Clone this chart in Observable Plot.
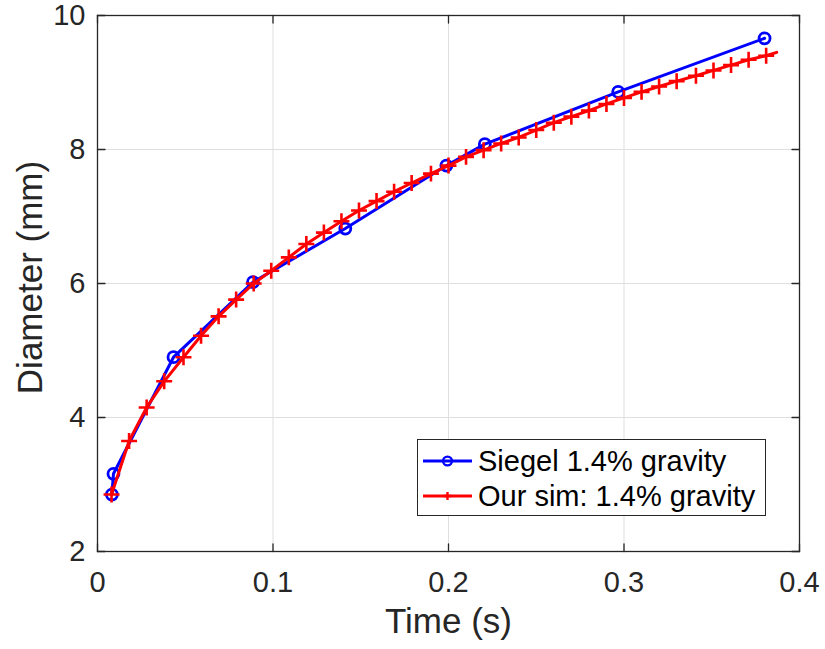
<!DOCTYPE html>
<html>
<head>
<meta charset="utf-8">
<script src="https://cdn.jsdelivr.net/npm/d3@7"></script>
<script src="https://cdn.jsdelivr.net/npm/@observablehq/plot@0.6"></script>
<style>
  html, body { margin: 0; padding: 0; background: #fff; }
  #wrap { position: relative; width: 825px; height: 649px; font-family: "Liberation Sans", Arial, Helvetica, sans-serif; }
  #legend { position: absolute; left: 417px; top: 439px; width: 349px; height: 77px; border: 1.3px solid #262626; background: #fff; box-sizing: border-box; }
  #legend .row { position: absolute; left: 0; height: 36px; display: flex; align-items: center; }
  #legend .row span { font-size: 29px; color: #000; margin-left: 0px; white-space: nowrap; }
</style>
</head>
<body>
<div id="wrap"></div>
<script>
// Siegel experimental data (1.4% gravity)
const siegelTime = [0.0082, 0.0091, 0.0433, 0.0886, 0.1412, 0.1988, 0.2207, 0.2967, 0.3801];
const siegelDiam = [2.85, 3.16, 4.90, 6.02, 6.82, 7.76, 8.08, 8.86, 9.66];

// Our simulation (1.4% gravity); last point is the unmarked end of the line
const simTime = [0.008, 0.018, 0.028, 0.038, 0.049, 0.059, 0.069, 0.079, 0.089, 0.099,
  0.109, 0.119, 0.129, 0.139, 0.149, 0.159, 0.169, 0.179, 0.190, 0.200,
  0.210, 0.220, 0.230, 0.240, 0.250, 0.260, 0.270, 0.280, 0.290, 0.300,
  0.310, 0.320, 0.330, 0.341, 0.351, 0.361, 0.371, 0.381, 0.387];
const simDiam = [2.85, 3.65, 4.15, 4.54, 4.90, 5.22, 5.51, 5.76, 6.00, 6.19,
  6.39, 6.59, 6.76, 6.93, 7.09, 7.23, 7.37, 7.50, 7.64, 7.76,
  7.89, 7.99, 8.09, 8.18, 8.29, 8.40, 8.49, 8.58, 8.68, 8.77,
  8.86, 8.94, 9.02, 9.10, 9.18, 9.26, 9.34, 9.40, 9.45];

const xTicks = [0, 0.1, 0.2, 0.3, 0.4];
const xTickLabels = ["0", "0.1", "0.2", "0.3", "0.4"];
const yTicks = [2, 4, 6, 8, 10];
const yTickLabels = ["2", "4", "6", "8", "10"];
const xLabel = "Time (s)";
const yLabel = "Diameter (mm)";
const seriesNames = ["Siegel 1.4% gravity", "Our sim: 1.4% gravity"];
const seriesColors = ["#0000ff", "#ff0000"];

const siegel = siegelTime.map((t, i) => ({t, d: siegelDiam[i]}));
const sim = simTime.map((t, i) => ({t, d: simDiam[i], marked: i < simTime.length - 1}));

const axisColor = "#262626";
const tickShape = { draw(context, l) { context.moveTo(0, 0); context.lineTo(0, -l); } };
const tickLen = 7.5;

const chart = Plot.plot({
  width: 825,
  height: 649,
  marginLeft: 97,
  marginRight: 26,
  marginTop: 15,
  marginBottom: 98,
  style: { fontFamily: "'Liberation Sans', Arial, Helvetica, sans-serif", background: "#fff", color: axisColor },
  x: { domain: [0, 0.4] },
  y: { domain: [2, 10] },
  marks: [
    Plot.gridX(xTicks, { stroke: "#dfdfdf", strokeOpacity: 1, strokeWidth: 1 }),
    Plot.gridY(yTicks, { stroke: "#dfdfdf", strokeOpacity: 1, strokeWidth: 1 }),
    Plot.axisX(xTicks, { tickSize: 0, tickPadding: 20, tickFormat: (d) => xTickLabels[xTicks.indexOf(d)], fontSize: 29, fill: axisColor, label: null }),
    Plot.axisY(yTicks, { tickSize: 0, tickPadding: 12, tickFormat: (d) => yTickLabels[yTicks.indexOf(d)], fontSize: 29, fill: axisColor, label: null }),
    // inward ticks on all four sides
    Plot.vector(xTicks, { x: d => d, frameAnchor: "bottom", length: tickLen, rotate: 0, anchor: "start", shape: tickShape, stroke: axisColor, strokeWidth: 1.3 }),
    Plot.vector(xTicks, { x: d => d, frameAnchor: "top", length: tickLen, rotate: 180, anchor: "start", shape: tickShape, stroke: axisColor, strokeWidth: 1.3 }),
    Plot.vector(yTicks, { y: d => d, frameAnchor: "left", length: tickLen, rotate: 90, anchor: "start", shape: tickShape, stroke: axisColor, strokeWidth: 1.3 }),
    Plot.vector(yTicks, { y: d => d, frameAnchor: "right", length: tickLen, rotate: -90, anchor: "start", shape: tickShape, stroke: axisColor, strokeWidth: 1.3 }),
    Plot.frame({ stroke: axisColor, strokeWidth: 1.3 }),
    // series
    Plot.line(siegel, { x: "t", y: "d", stroke: seriesColors[0], strokeWidth: 3 }),
    Plot.dot(siegel, { x: "t", y: "d", r: 5.5, stroke: seriesColors[0], strokeWidth: 2.8, fill: "none" }),
    Plot.line(sim, { x: "t", y: "d", stroke: seriesColors[1], strokeWidth: 3 }),
    Plot.dot(sim.filter(d => d.marked), { x: "t", y: "d", symbol: "plus", r: 5.2, stroke: seriesColors[1], strokeWidth: 2.6 }),
    // axis titles
    Plot.text([xLabel], { text: d => d, frameAnchor: "bottom", textAnchor: "middle", lineAnchor: "middle", dy: 70, fontSize: 35, fill: axisColor }),
    Plot.text([yLabel], { text: d => d, frameAnchor: "left", textAnchor: "middle", lineAnchor: "middle", dx: -67, dy: -6, rotate: -90, fontSize: 35, fill: axisColor })
  ]
});

const wrap = document.getElementById("wrap");
wrap.appendChild(chart);

// legend
const legend = document.createElement("div");
legend.id = "legend";
const rowTops = [3, 38];
const markers = [
  '<circle cx="24.5" cy="18" r="4.4" fill="none" stroke="#0000ff" stroke-width="2.4"/>',
  '<path d="M24.5,14V22M20.5,18H28.5" stroke="#ff0000" stroke-width="2.4"/>'
];
seriesNames.forEach((name, i) => {
  const row = document.createElement("div");
  row.className = "row";
  row.style.top = rowTops[i] + "px";
  row.innerHTML = `<svg width="55" height="36" style="margin-left:5px"><line x1="0" x2="49" y1="18" y2="18" stroke="${seriesColors[i]}" stroke-width="3"/>${markers[i]}</svg><span>${name}</span>`;
  legend.appendChild(row);
});
wrap.appendChild(legend);
</script>
</body>
</html>
